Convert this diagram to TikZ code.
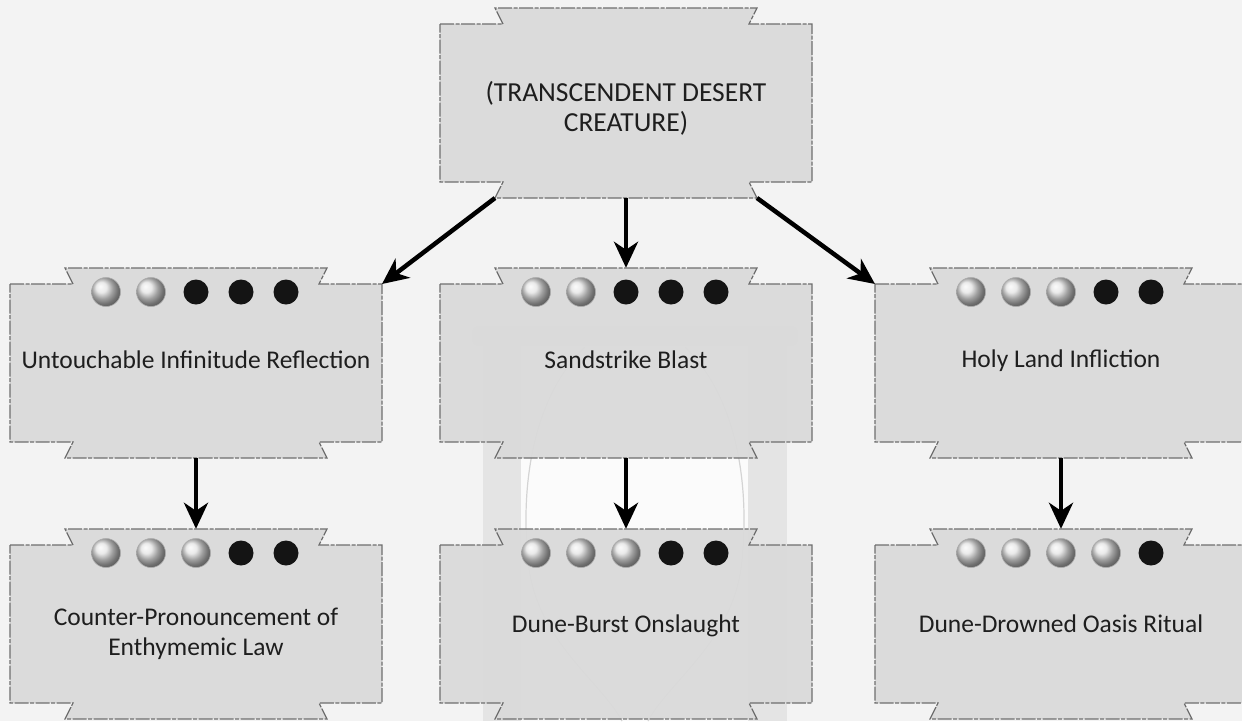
\documentclass[tikz,border=0pt]{standalone}
\usepackage{fontspec}
\setmainfont{Carlito}
\usetikzlibrary{arrows.meta,shadings}
\definecolor{bg}{HTML}{F3F3F3}
\definecolor{boxfill}{HTML}{DADADA}
\definecolor{boxline}{HTML}{6E6E6E}
\definecolor{txt}{HTML}{1E1E1E}
\definecolor{glassline}{HTML}{D4D4D4}
\definecolor{postfill}{HTML}{E4E4E4}
\tikzset{
  boxarea/.style={rectangle, minimum width=372pt, minimum height=190pt, inner sep=0pt},
  boxoutline/.style={fill=boxfill, fill opacity=0.94, draw=boxline, line width=1.2pt,
    dash pattern=on 14pt off 1.5pt on 4pt off 1.5pt, line join=miter},
  boxtext/.style={font=\fontsize{25.5}{30}\selectfont, text=txt, align=center, inner sep=0pt, anchor=base},
  flowarrow/.style={line width=4.5pt, black, -{Stealth[length=26pt,width=24pt,inset=8pt]}},
  silverdot/.style={ball color=gray!22, draw=gray!65, line width=0.6pt},
  blackdot/.style={fill=black!92},
}
% #1 name, #2 cx, #3 cy, #4 number of silver orbs (-1: no orbs), #5 text, #6 offset of last baseline
\newcommand{\skillbox}[6]{%
  \node[boxarea] (#1) at (#2,#3) {};
  \path[boxoutline] ({#2-186},{#3-79}) -- ({#2-123},{#3-79}) -- ({#2-131},{#3-95})
     -- ({#2+131},{#3-95}) -- ({#2+123},{#3-79}) -- ({#2+186},{#3-79})
     -- ({#2+186},{#3+79}) -- ({#2+123},{#3+79}) -- ({#2+131},{#3+95})
     -- ({#2-131},{#3+95}) -- ({#2-123},{#3+79}) -- ({#2-186},{#3+79}) -- cycle;
  \coordinate (#1-nw) at ({#2-186},{#3-79});
  \coordinate (#1-ne) at ({#2+186},{#3-79});
  \coordinate (#1-bl) at ({#2-131},{#3+95});
  \coordinate (#1-br) at ({#2+131},{#3+95});
  \ifnum#4>-1
    \foreach \i in {0,...,4}{%
      \pgfmathsetmacro\dx{(\i-2)*45}%
      \ifnum\i<#4
        \shadedraw[silverdot] ({#2+\dx},{#3-71}) circle[radius=14.5pt];
      \else
        \fill[blackdot] ({#2+\dx},{#3-71}) circle[radius=12.5pt];
      \fi
    }%
  \fi
  \node[boxtext] (#1-t) at (#2,{#3+#6}) {#5};
}
\begin{document}
\begin{tikzpicture}[x=1pt,y=-1pt]
\useasboundingbox (0,0) rectangle (1242,721);
\fill[bg] (0,0) rectangle (1242,721);

% faint hourglass in the background
\fill[white!70!bg] (521,345) rectangle (748,721);
\fill[postfill, rounded corners=6pt] (472,326) rectangle (798,346);
\fill[postfill] (483,340) rectangle (521,721);
\fill[postfill] (748,340) rectangle (787,721);
\draw[glassline, line width=1.2pt] (585,347) .. controls (535,395) and (520,480) .. (528,560)
   .. controls (535,640) and (600,680) .. (622,721);
\draw[glassline, line width=1.2pt] (685,347) .. controls (735,395) and (750,480) .. (742,560)
   .. controls (735,640) and (670,680) .. (648,721);

% boxes
\begin{scope}[boxtext/.append style={font=\fontsize{27.5}{30}\selectfont}]
\skillbox{top}{626}{103}{-1}{(TRANSCENDENT DESERT\\CREATURE)}{28}
\end{scope}
\skillbox{l2}{196}{363}{2}{Untouchable Infinitude Reflection}{5}
\skillbox{m2}{626}{363}{2}{Sandstrike Blast}{5}
\skillbox{r2}{1061}{363}{3}{Holy Land Infliction}{4}
\skillbox{l3}{196}{624}{3}{Counter-Pronouncement of\\Enthymemic Law}{31}
\skillbox{m3}{626}{624}{3}{Dune-Burst Onslaught}{8}
\skillbox{r3}{1061}{624}{4}{Dune-Drowned Oasis Ritual}{8}

% connectors
\draw[flowarrow] (top-bl) -- (l2-ne);
\draw[flowarrow] (top.south) -- (m2.north);
\draw[flowarrow] (top-br) -- (r2-nw);
\draw[flowarrow] (l2.south) -- (l3.north);
\draw[flowarrow] (m2.south) -- (m3.north);
\draw[flowarrow] (r2.south) -- (r3.north);
\end{tikzpicture}
\end{document}
